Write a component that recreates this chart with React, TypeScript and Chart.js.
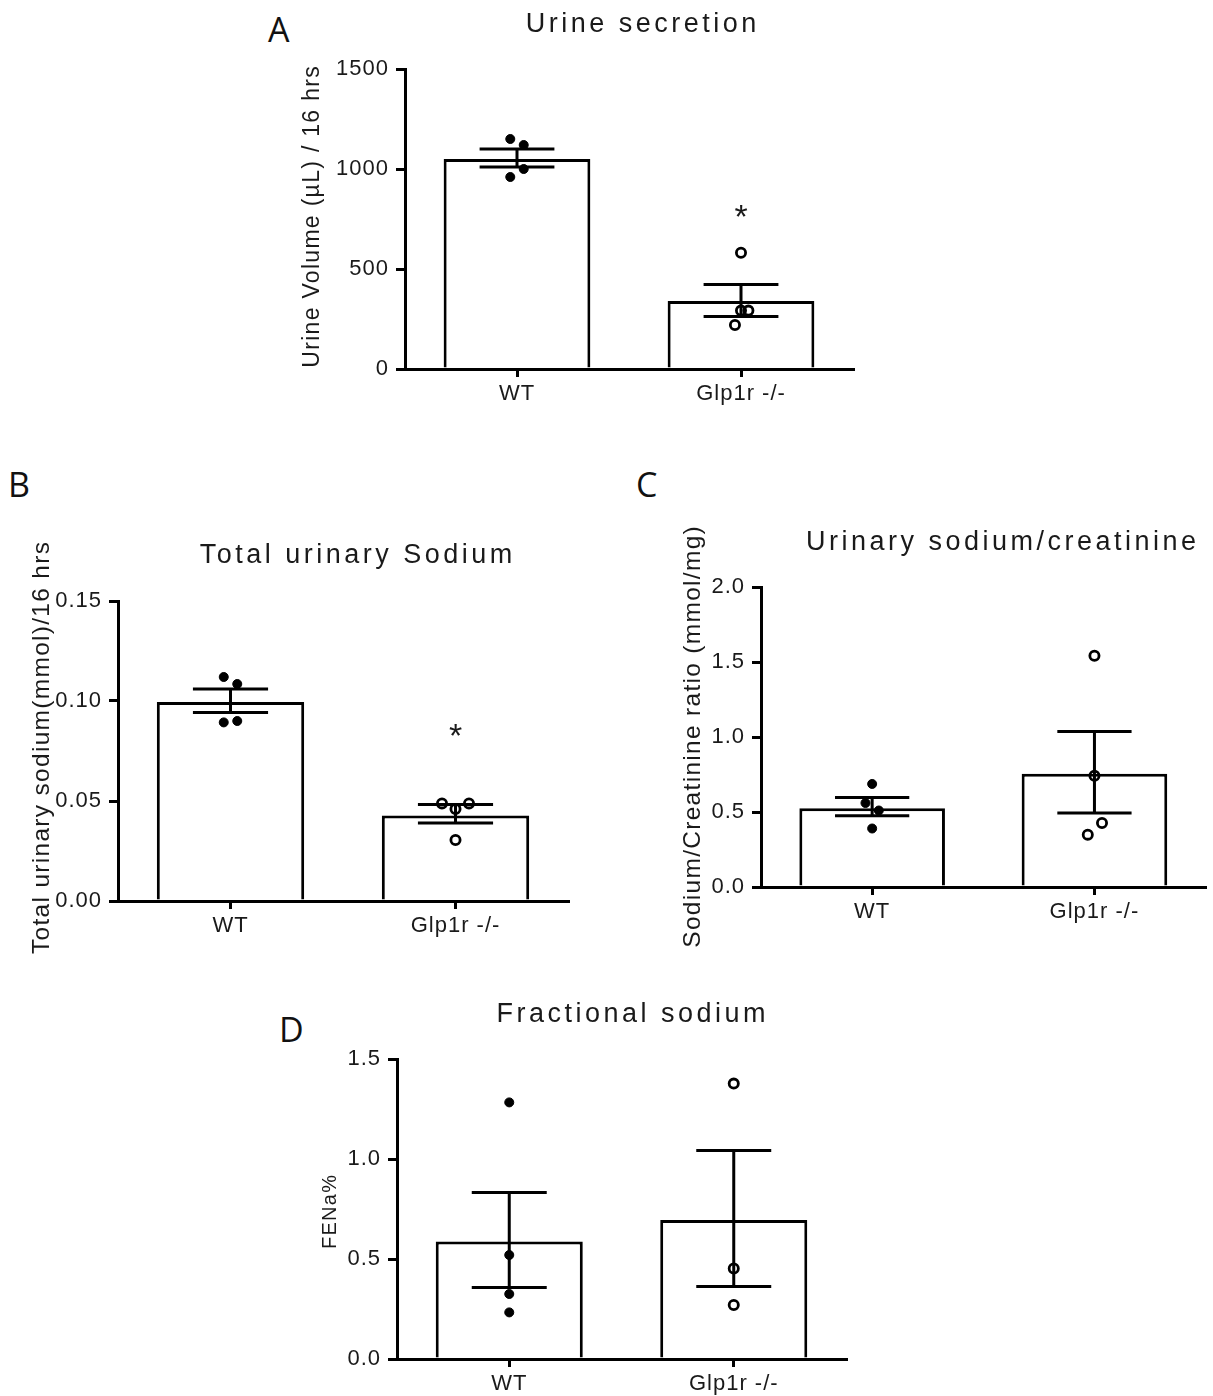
import React, { useEffect, useRef } from 'react';
import { Chart, registerables } from 'chart.js';

Chart.register(...registerables);

const FONT = '"Liberation Sans", Arial, sans-serif';
Chart.defaults.font.family = FONT;

// ---------------- data ----------------
const categories = ['WT', 'Glp1r -/-'];

// Panel A
const aTitle = 'Urine secretion';
const aYTitle = 'Urine Volume (µL) / 16 hrs';
const aYTicks = [0, 500, 1000, 1500];
const aYTickLabels = ['0', '500', '1000', '1500'];
const aMeans = [1050, 340];
const aErrLow = [1010, 262];
const aErrHigh = [1100, 423];
const aWtValues = [1150, 1120, 1000, 960];
const aWtJitter = [-0.03, 0.03, 0.03, -0.03];
const aKoValues = [581, 292, 292, 220];
const aKoJitter = [0, 0, 0.033, -0.027];
const aStars = [null, 800];

// Panel B
const bTitle = 'Total urinary Sodium';
const bYTitle = 'Total urinary sodium(mmol)/16 hrs';
const bYTicks = [0, 0.05, 0.1, 0.15];
const bYTickLabels = ['0.00', '0.05', '0.10', '0.15'];
const bMeans = [0.0995, 0.0428];
const bErrLow = [0.0942, 0.039];
const bErrHigh = [0.106, 0.0482];
const bWtValues = [0.112, 0.1085, 0.0893, 0.09];
const bWtJitter = [-0.03, 0.03, -0.03, 0.03];
const bKoValues = [0.0488, 0.046, 0.0488, 0.0305];
const bKoJitter = [-0.06, 0, 0.06, 0];
const bStars = [null, 0.0865];

// Panel C
const cTitle = 'Urinary sodium/creatinine';
const cYTitle = 'Sodium/Creatinine ratio (mmol/mg)';
const cYTicks = [0, 0.5, 1, 1.5, 2];
const cYTickLabels = ['0.0', '0.5', '1.0', '1.5', '2.0'];
const cMeans = [0.525, 0.755];
const cErrLow = [0.475, 0.493];
const cErrHigh = [0.597, 1.037];
const cWtValues = [0.687, 0.56, 0.51, 0.39];
const cWtJitter = [0, -0.03, 0.03, 0];
const cKoValues = [1.542, 0.742, 0.427, 0.349];
const cKoJitter = [0, 0, 0.034, -0.03];
const cStars = [null, null];

// Panel D
const dTitle = 'Fractional sodium';
const dYTitle = 'FENa%';
const dYTicks = [0, 0.5, 1, 1.5];
const dYTickLabels = ['0.0', '0.5', '1.0', '1.5'];
const dMeans = [0.587, 0.695];
const dErrLow = [0.357, 0.362];
const dErrHigh = [0.833, 1.042];
const dWtValues = [1.283, 0.52, 0.325, 0.233];
const dWtJitter = [0, 0, 0, 0];
const dKoValues = [1.377, 0.453, 0.27];
const dKoJitter = [0, 0, 0];
const dStars = [null, null];

// ---------------- layout (page pixels) ----------------
type Layout = {
  left: number; top: number; w: number; h: number;
  area: { l: number; r: number; t: number; b: number };
  titleX: number; titleBase: number;
  yTitleX: number; yTitleY: number; yTitleSize: number;
};

const layoutA: Layout = { left: 280, top: 0, w: 620, h: 420, area: { l: 405, r: 853, t: 69, b: 369 }, titleX: 641, titleBase: 32, yTitleX: 313, yTitleY: 217, yTitleSize: 23 };
const layoutB: Layout = { left: 0, top: 520, w: 600, h: 440, area: { l: 118, r: 568, t: 601, b: 901 }, titleX: 356, titleBase: 563, yTitleX: 42, yTitleY: 748, yTitleSize: 24.5 };
const layoutC: Layout = { left: 640, top: 510, w: 573, h: 450, area: { l: 761, r: 1211, t: 587, b: 887 }, titleX: 1001, titleBase: 550, yTitleX: 693, yTitleY: 737, yTitleSize: 24.5 };
const layoutD: Layout = { left: 290, top: 990, w: 580, h: 406, area: { l: 397, r: 846, t: 1059, b: 1359 }, titleX: 631, titleBase: 1022, yTitleX: 330, yTitleY: 1212, yTitleSize: 20 };

const INK = '#1a1a1a';
const LINE_W = 3;
const CAP_HALF = 0.167;

type Spec = {
  title: string; yTitle: string; yTicks: number[]; yTickLabels: string[];
  means: number[]; lo: number[]; hi: number[];
  wt: number[]; wtJit: number[]; ko: number[]; koJit: number[];
  stars: (number | null)[];
};

const specA: Spec = { title: aTitle, yTitle: aYTitle, yTicks: aYTicks, yTickLabels: aYTickLabels, means: aMeans, lo: aErrLow, hi: aErrHigh, wt: aWtValues, wtJit: aWtJitter, ko: aKoValues, koJit: aKoJitter, stars: aStars };
const specB: Spec = { title: bTitle, yTitle: bYTitle, yTicks: bYTicks, yTickLabels: bYTickLabels, means: bMeans, lo: bErrLow, hi: bErrHigh, wt: bWtValues, wtJit: bWtJitter, ko: bKoValues, koJit: bKoJitter, stars: bStars };
const specC: Spec = { title: cTitle, yTitle: cYTitle, yTicks: cYTicks, yTickLabels: cYTickLabels, means: cMeans, lo: cErrLow, hi: cErrHigh, wt: cWtValues, wtJit: cWtJitter, ko: cKoValues, koJit: cKoJitter, stars: cStars };
const specD: Spec = { title: dTitle, yTitle: dYTitle, yTicks: dYTicks, yTickLabels: dYTickLabels, means: dMeans, lo: dErrLow, hi: dErrHigh, wt: dWtValues, wtJit: dWtJitter, ko: dKoValues, koJit: dKoJitter, stars: dStars };

function makePlugin(p: Spec, L: Layout) {
  return {
    id: 'panelAnnotations',
    beforeDraw(chart: any) {
      (chart.ctx as any).letterSpacing = '1px';
    },
    afterDatasetsDraw(chart: any) {
      const ctx = chart.ctx as any;
      const xs = chart.scales.xs;
      const y = chart.scales.y;
      ctx.save();
      ctx.strokeStyle = '#000';
      ctx.lineWidth = LINE_W;
      ctx.lineCap = 'butt';
      p.means.forEach((_m, i) => {
        const cx = xs.getPixelForValue(i);
        const x0 = xs.getPixelForValue(i - CAP_HALF);
        const x1 = xs.getPixelForValue(i + CAP_HALF);
        const yl = y.getPixelForValue(p.lo[i]);
        const yh = y.getPixelForValue(p.hi[i]);
        ctx.beginPath();
        ctx.moveTo(cx, yl); ctx.lineTo(cx, yh);
        ctx.moveTo(x0, yl); ctx.lineTo(x1, yl);
        ctx.moveTo(x0, yh); ctx.lineTo(x1, yh);
        ctx.stroke();
        const s = p.stars[i];
        if (s != null) {
          ctx.letterSpacing = '0px';
          ctx.fillStyle = INK;
          ctx.font = `34px ${FONT}`;
          ctx.textAlign = 'center';
          ctx.textBaseline = 'alphabetic';
          ctx.fillText('*', cx, y.getPixelForValue(s) + 19);
        }
      });
      ctx.restore();
    },
    afterDraw(chart: any) {
      const ctx = chart.ctx as any;
      ctx.save();
      ctx.fillStyle = INK;
      // chart title
      ctx.letterSpacing = '3.5px';
      ctx.font = `27px ${FONT}`;
      ctx.textAlign = 'center';
      ctx.textBaseline = 'alphabetic';
      ctx.fillText(p.title, L.titleX - L.left + 1.75, L.titleBase - L.top);
      // y axis title
      ctx.letterSpacing = '1.3px';
      ctx.font = `${L.yTitleSize}px ${FONT}`;
      ctx.translate(L.yTitleX - L.left, L.yTitleY - L.top);
      ctx.rotate(-Math.PI / 2);
      ctx.textBaseline = 'middle';
      ctx.fillText(p.yTitle, 0.65, 0);
      ctx.restore();
    },
  };
}

function buildConfig(p: Spec, L: Layout): any {
  const pts = (vals: number[], jit: number[], idx: number) =>
    vals.map((v, i) => ({ x: idx + jit[i], y: v }));
  const yMax = p.yTicks[p.yTicks.length - 1];
  return {
    type: 'bar',
    data: {
      labels: categories,
      datasets: [
        {
          type: 'bar',
          data: p.means,
          backgroundColor: '#ffffff',
          borderColor: '#000000',
          borderWidth: LINE_W,
          barPercentage: 0.655,
          categoryPercentage: 1,
          grouped: false,
          xAxisID: 'x',
          yAxisID: 'y',
          order: 3,
        },
        {
          type: 'scatter',
          data: pts(p.wt, p.wtJit, 0),
          xAxisID: 'xs',
          yAxisID: 'y',
          pointRadius: 4.5,
          pointBackgroundColor: '#000',
          pointBorderColor: '#000',
          pointBorderWidth: 1,
          order: 1,
        },
        {
          type: 'scatter',
          data: pts(p.ko, p.koJit, 1),
          xAxisID: 'xs',
          yAxisID: 'y',
          pointRadius: 4.6,
          pointBackgroundColor: 'rgba(255,255,255,0)',
          pointBorderColor: '#000',
          pointBorderWidth: 2.8,
          order: 1,
        },
      ],
    },
    options: {
      responsive: false,
      animation: false,
      events: [],
      layout: {
        padding: {
          left: 0,
          bottom: 0,
          top: L.area.t - L.top,
          right: L.left + L.w - L.area.r,
        },
      },
      plugins: {
        legend: { display: false },
        tooltip: { enabled: false },
        title: { display: false },
      },
      scales: {
        x: {
          type: 'category',
          offset: true,
          grid: {
            display: true,
            drawOnChartArea: false,
            drawTicks: true,
            tickLength: 8,
            offset: false,
            color: '#000',
            lineWidth: LINE_W,
          },
          border: { display: true, color: '#000', width: LINE_W },
          ticks: {
            color: INK,
            font: { family: FONT, size: 22 },
            padding: 4,
            maxRotation: 0,
            autoSkip: false,
          },
          afterFit: (s: any) => {
            s.height = L.top + L.h - L.area.b;
          },
        },
        xs: {
          type: 'linear',
          display: false,
          offset: false,
          grid: { offset: false },
          min: -0.5,
          max: 1.5,
        },
        y: {
          type: 'linear',
          min: 0,
          max: yMax,
          afterBuildTicks: (s: any) => {
            s.ticks = p.yTicks.map((v) => ({ value: v }));
          },
          grid: {
            display: true,
            drawOnChartArea: false,
            drawTicks: true,
            tickLength: 9,
            color: '#000',
            lineWidth: LINE_W,
          },
          border: { display: true, color: '#000', width: LINE_W },
          ticks: {
            color: INK,
            font: { family: FONT, size: 22 },
            padding: 7,
            callback: (v: number) => {
              const k = p.yTicks.findIndex((t) => Math.abs(t - v) < 1e-9);
              return k >= 0 ? p.yTickLabels[k] : '';
            },
          },
          afterFit: (s: any) => {
            s.width = L.area.l - L.left;
          },
        },
      },
    },
    plugins: [makePlugin(p, L)],
  };
}

function Panel({ spec, layout }: { spec: Spec; layout: Layout }) {
  const ref = useRef<HTMLCanvasElement>(null);
  useEffect(() => {
    const chart = new Chart(ref.current as HTMLCanvasElement, buildConfig(spec, layout));
    return () => chart.destroy();
  }, [spec, layout]);
  return (
    <canvas
      ref={ref}
      width={layout.w}
      height={layout.h}
      style={{
        position: 'absolute',
        left: layout.left,
        top: layout.top,
        width: layout.w,
        height: layout.h,
      }}
    />
  );
}

const panelLetters = [
  { text: 'A', left: 268, top: 12 },
  { text: 'B', left: 8, top: 467 },
  { text: 'C', left: 636, top: 467 },
  { text: 'D', left: 279, top: 1012 },
];

export default function App() {
  return (
    <div
      style={{
        position: 'absolute',
        left: 0,
        top: 0,
        width: 1213,
        height: 1396,
        background: '#ffffff',
        overflow: 'hidden',
      }}
    >
      {panelLetters.map((l) => (
        <div
          key={l.text}
          style={{
            position: 'absolute',
            left: l.left,
            top: l.top,
            fontFamily: '"Open Sans", "Noto Sans", sans-serif',
            fontSize: 34,
            lineHeight: 1,
            color: '#111',
          }}
        >
          {l.text}
        </div>
      ))}
      <Panel spec={specA} layout={layoutA} />
      <Panel spec={specB} layout={layoutB} />
      <Panel spec={specC} layout={layoutC} />
      <Panel spec={specD} layout={layoutD} />
    </div>
  );
}
